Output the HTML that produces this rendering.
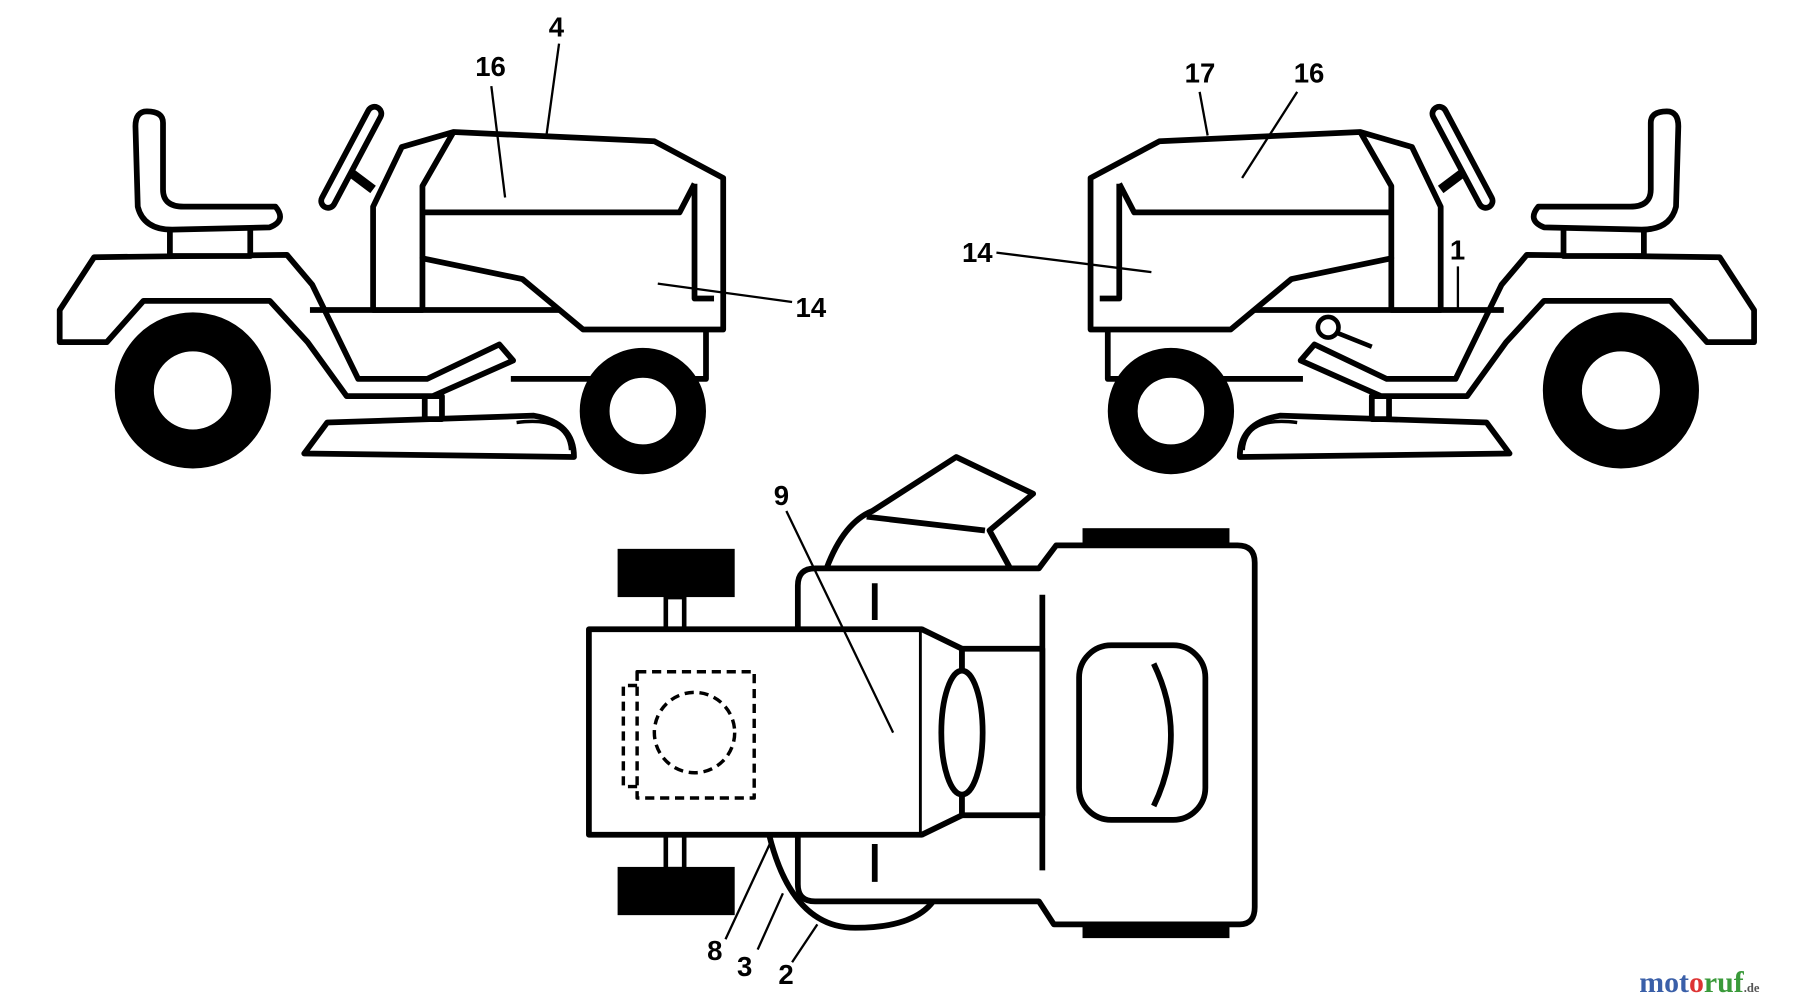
<!DOCTYPE html>
<html><head><meta charset="utf-8"><style>
html,body{margin:0;padding:0;background:#fff;width:1800px;height:1007px;overflow:hidden}
svg{display:block}
text{font-family:"Liberation Sans",sans-serif;font-weight:bold;font-size:24px;fill:#000}
</style></head><body>
<svg width="1800" height="1007" viewBox="0 0 1568 877" preserveAspectRatio="none" xmlns="http://www.w3.org/2000/svg">
<defs>
<g id="tr" fill="#fff" stroke="#000" stroke-width="5" stroke-linejoin="round">
  <!-- deck -->
  <path d="M265,395 L285,368 L465,362 Q500,368 500,398 Z"/>
  <path d="M450,368 Q495,362 497,392" fill="none" stroke-width="3"/>
  <rect x="370" y="345" width="15" height="20"/>
  <!-- fender/body -->
  <path d="M52,298 L52,270 L82,224 L250,222 L272,248 L312,330 L372,330 L435,300 L447,314 L377,345 L302,345 L268,298 L235,262 L125,262 L93,298 Z"/>
  <path d="M270,270 L615,270 L615,330 L445,330" fill="none"/>
  <!-- seat -->
  <rect x="148" y="198" width="70" height="25"/>
  <path d="M128,97 Q118,97 118,110 L120,180 Q125,200 150,200 L235,198 Q250,192 240,180 L160,180 Q142,180 142,165 L142,107 Q142,97 128,97 Z"/>
  <!-- steering -->
  <path d="M305,150 L325,165" stroke-width="8"/>
  <rect x="300" y="88" width="12" height="98" rx="6" transform="rotate(28 306 137)"/>
  <!-- hood -->
  <path d="M325,270 L325,180 L350,128 L395,115 L570,123 L630,155 L630,287 L508,287 L455,243 L368,225 L368,270 Z"/>
  <path d="M395,115 L368,162 L368,225"/>
  <path d="M368,185 L592,185 L605,160"/>
  <path d="M605,160 L605,260 L622,260"/>
  <!-- wheels -->
  <circle cx="168" cy="340" r="51" stroke-width="34"/>
  <circle cx="560" cy="358" r="42" stroke-width="26"/>
</g>
</defs>
<rect width="1568" height="877" fill="#fff"/>
<use href="#tr"/>
<use href="#tr" transform="translate(1580,0) scale(-1,1)"/>
<!-- right-side extras -->
<g fill="#fff" stroke="#000" stroke-width="4">
  <line x1="1160" y1="288" x2="1195" y2="302"/>
  <circle cx="1157" cy="285" r="9"/>
</g>
<!-- top view -->
<g fill="#fff" stroke="#000" stroke-width="5" stroke-linejoin="round">
  <path d="M670,727 Q690,808 745,808 Q810,808 820,770 L820,727 Z"/>
  <path d="M720,495 Q735,455 760,445 L833,398 L900,430 L862,462 L880,495 Z"/>
  <path d="M755,450 L858,462"/>
  <rect x="580" y="520" width="16" height="30" stroke-width="4"/>
  <rect x="580" y="727" width="16" height="30" stroke-width="4"/>
  <path d="M695,727 L695,770 Q695,785 710,785 L905,785 L918,805 L1080,805 Q1093,805 1093,790 L1093,490 Q1093,475 1078,475 L920,475 L905,495 L710,495 Q695,495 695,510 Z"/>
  <rect x="513" y="548" width="290" height="179"/>
  <path d="M803,548 L838,565 L838,710 L803,727"/>
  <rect x="838" y="565" width="70" height="145"/>
  <ellipse cx="838" cy="638" rx="18" ry="54"/>
  <line x1="908" y1="518" x2="908" y2="758"/>
  <line x1="762" y1="508" x2="762" y2="540"/>
  <line x1="762" y1="735" x2="762" y2="768"/>
  <rect x="940" y="562" width="110" height="152" rx="28"/>
  <path d="M1005,578 Q1035,640 1005,702" fill="none"/>
  <rect x="555" y="585" width="102" height="110" stroke-dasharray="8,5" stroke-width="3"/>
  <path d="M555,597 L543,597 L543,685 L555,685" fill="none" stroke-dasharray="8,5" stroke-width="3"/>
  <circle cx="605" cy="638" r="35" stroke-dasharray="8,5" stroke-width="3"/>
</g>
<g fill="#000">
  <rect x="538" y="478" width="102" height="42"/>
  <rect x="538" y="755" width="102" height="42"/>
  <rect x="943" y="460" width="128" height="16"/>
  <rect x="943" y="803" width="128" height="14"/>
</g>
<!-- leaders -->
<g stroke="#000" stroke-width="2" fill="none">
  <line x1="428" y1="75" x2="440" y2="172"/>
  <line x1="487" y1="38" x2="476" y2="118"/>
  <line x1="573" y1="247" x2="690" y2="263"/>
  <line x1="1045" y1="80" x2="1052" y2="118"/>
  <line x1="1130" y1="80" x2="1082" y2="155"/>
  <line x1="868" y1="220" x2="1003" y2="237"/>
  <line x1="1270" y1="232" x2="1270" y2="272"/>
  <line x1="685" y1="445" x2="778" y2="638"/>
  <line x1="632" y1="818" x2="672" y2="732"/>
  <line x1="660" y1="827" x2="682" y2="778"/>
  <line x1="690" y1="838" x2="712" y2="805"/>
</g>
<text x="414" y="66">16</text>
<text x="478" y="32">4</text>
<text x="693" y="276">14</text>
<text x="1032" y="72">17</text>
<text x="1127" y="72">16</text>
<text x="838" y="228">14</text>
<text x="1263" y="226">1</text>
<text x="674" y="440">9</text>
<text x="616" y="836">8</text>
<text x="642" y="850">3</text>
<text x="678" y="857">2</text>
<text x="1428" y="864" style="font-family:'Liberation Serif',serif;font-size:26px"><tspan fill="#3a5fa8">mot</tspan><tspan fill="#d33">o</tspan><tspan fill="#3a9a3a">ruf</tspan><tspan font-size="11" fill="#555">.de</tspan></text>
</svg>
</body></html>
